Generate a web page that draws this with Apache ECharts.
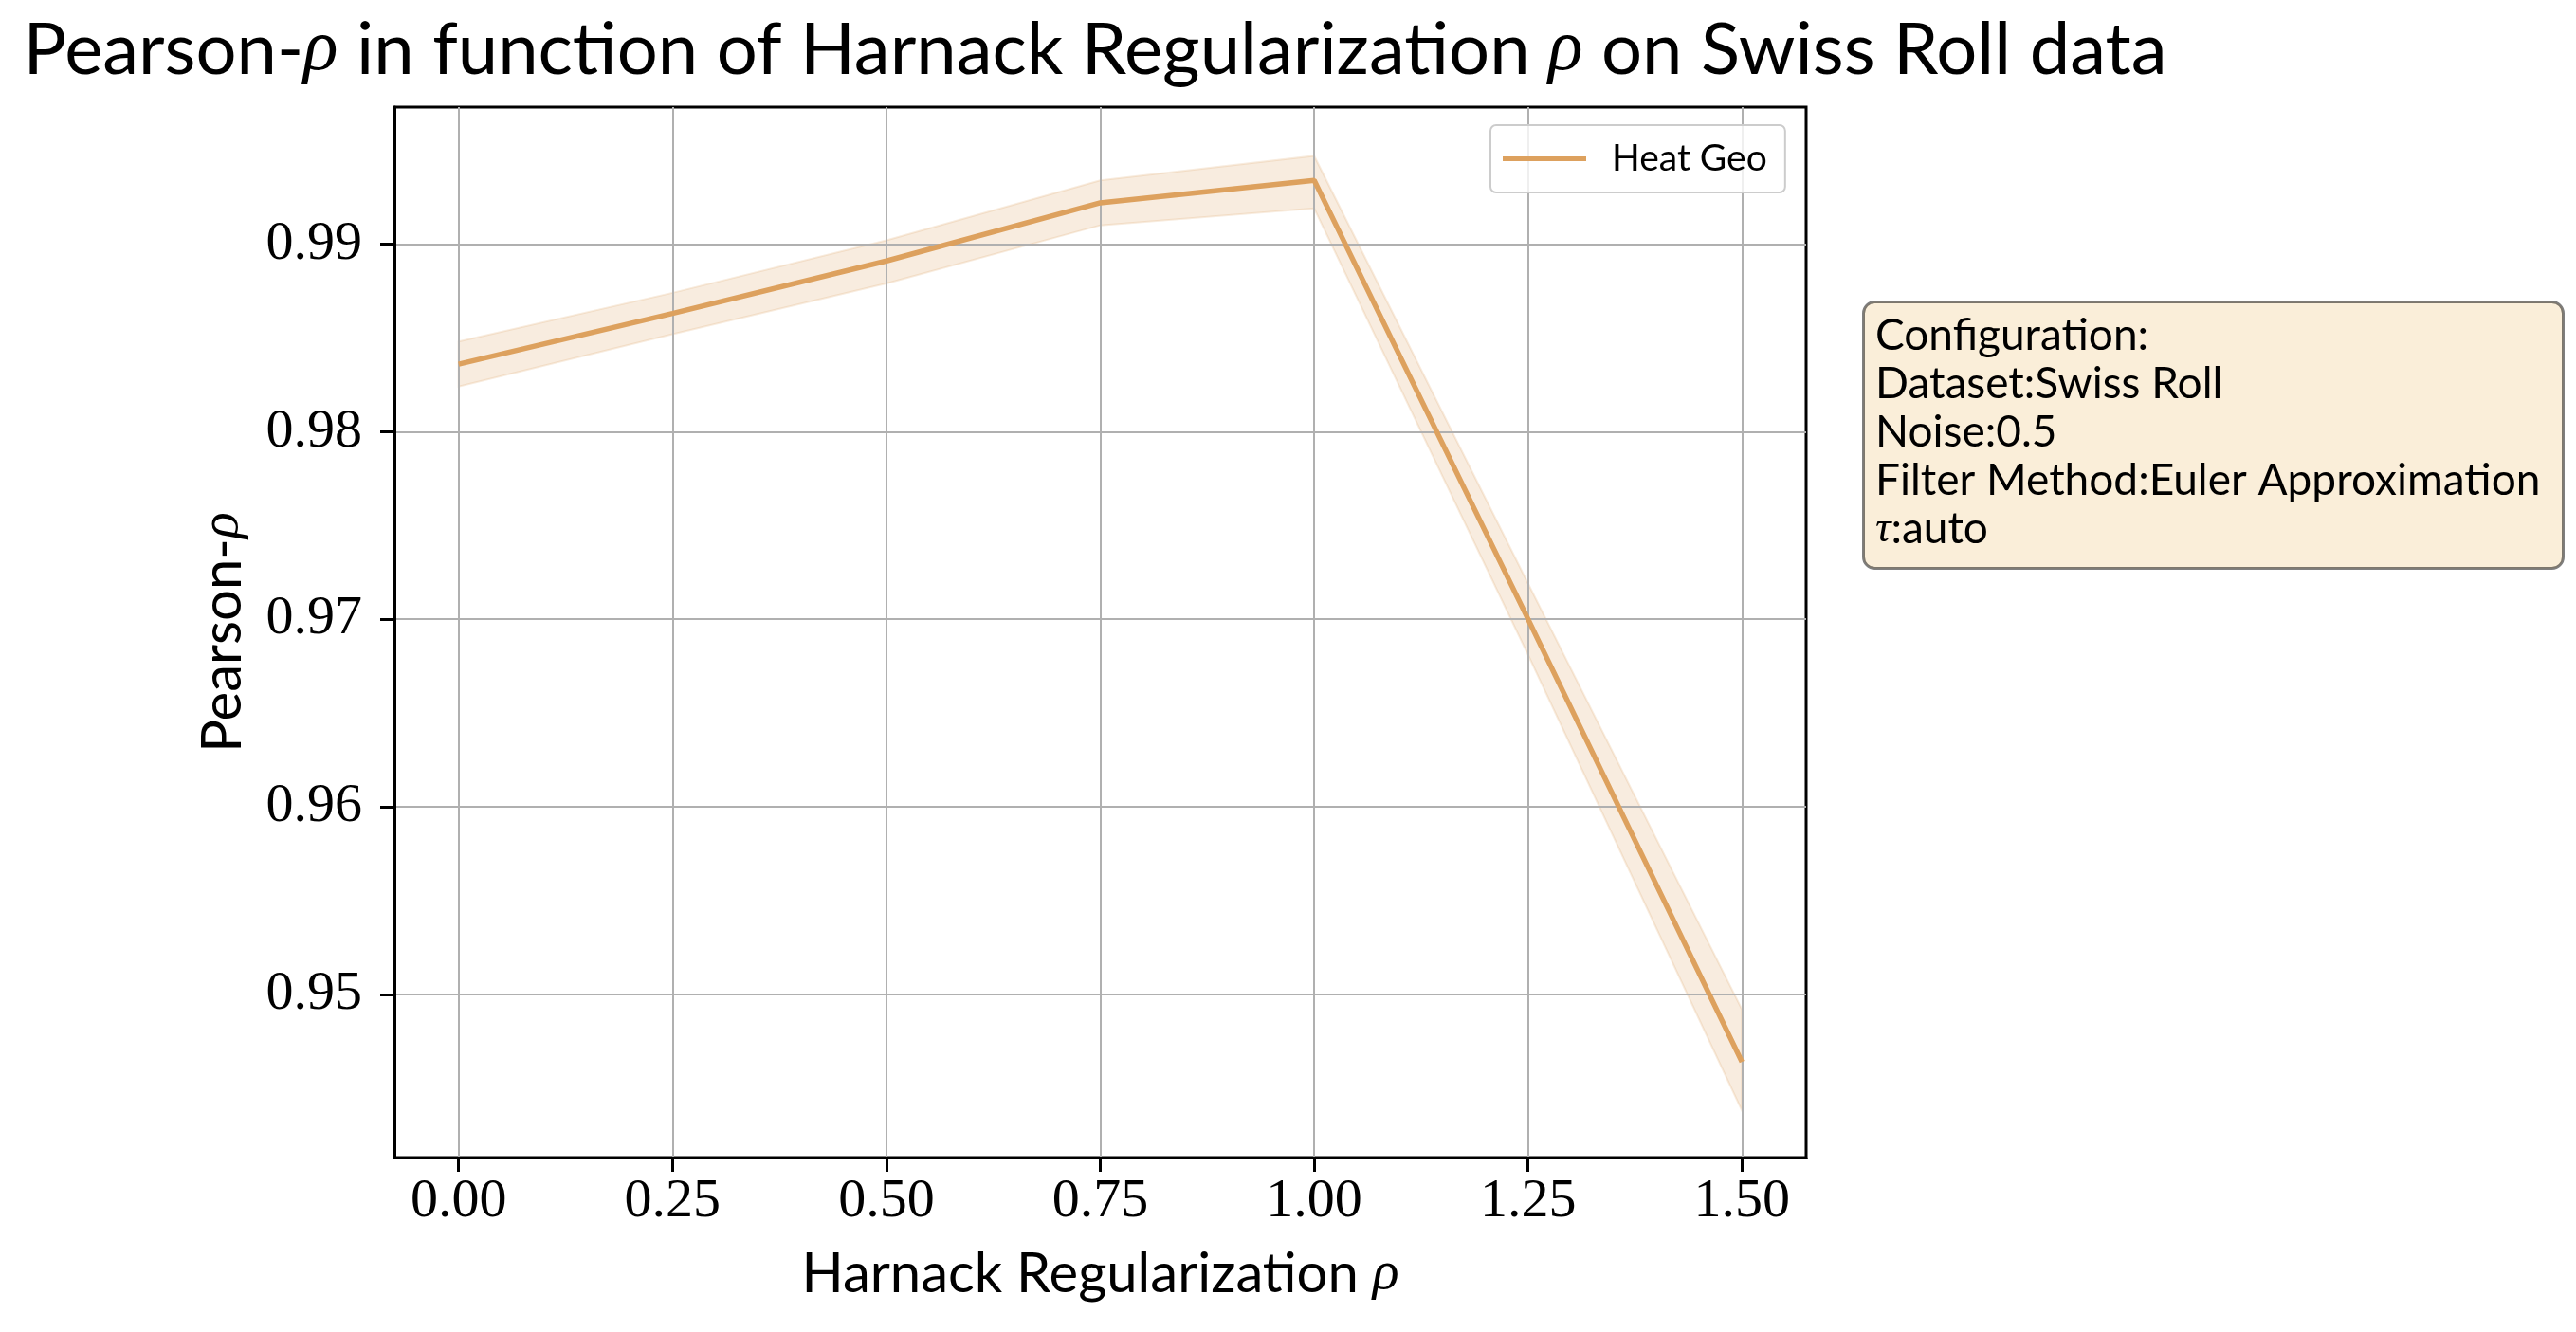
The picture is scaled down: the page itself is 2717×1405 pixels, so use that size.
<!DOCTYPE html>
<html>
<head>
    <meta charset="utf-8">
    <script src="https://cdn.jsdelivr.net/npm/echarts@6/dist/echarts.min.js"></script>
    <style>html, body { margin: 0; padding: 0; background: #ffffff; }</style>
</head>
<body>
    <div id="main" style="width: 2717px; height: 1405px;"></div>
    <script type="text/javascript">
        // data
        var regValues = [0, 0.25, 0.5, 0.75, 1.0, 1.25, 1.5];
        var pearsonMean = [0.9836, 0.9863, 0.9891, 0.9922, 0.9934, 0.9700, 0.9464];
        var pearsonUpper = [0.9848, 0.9874, 0.9902, 0.9934, 0.9947, 0.9719, 0.9492];
        var pearsonLower = [0.9824, 0.9852, 0.9879, 0.9910, 0.9919, 0.9681, 0.9438];
        var xTicks = [0, 0.25, 0.5, 0.75, 1.0, 1.25, 1.5];
        var yTicks = [0.95, 0.96, 0.97, 0.98, 0.99];
        var configLines = ['Configuration:', 'Dataset:Swiss Roll', 'Noise:0.5',
                           'Filter Method:Euler Approximation', '{i|τ}:auto'];

        var myChart = echarts.init(document.getElementById('main'));

        var sans = 'Lato';
        var serif = 'Liberation Serif';
        var lineColor = '#dda15e';

        var option = {
            animation: false,
            backgroundColor: '#ffffff',
            title: {
                text: 'Pearson-{i|ρ} in function of Harnack Regularization {i|ρ} on Swiss Roll data',
                left: 1150,
                textAlign: 'center',
                top: 10,
                textStyle: {
                    fontFamily: sans, fontWeight: 'normal', fontSize: 76, color: '#000',
                    rich: { i: { fontFamily: serif, fontStyle: 'italic', fontSize: 76, color: '#000' } }
                }
            },
            legend: {
                data: ['Heat Geo'],
                left: 1572,
                top: 132,
                padding: [16, 19, 16, 13],
                icon: 'rect',
                itemWidth: 88,
                itemHeight: 5,
                backgroundColor: 'rgba(255,255,255,0.8)',
                borderColor: '#cccccc',
                borderWidth: 2,
                borderRadius: 6,
                textStyle: { fontFamily: sans, fontSize: 39, color: '#000', padding: [0, 0, 0, 22] }
            },
            grid: {
                left: 416, top: 113, width: 1489, height: 1108,
                show: true, borderColor: '#000', borderWidth: 3,
                backgroundColor: 'transparent',
                containLabel: false,
                outerBoundsMode: 'none'
            },
            xAxis: {
                type: 'value', min: -0.075, max: 1.575, z: 1,
                axisLine: { show: true, onZero: false, lineStyle: { color: '#000', width: 3 } },
                axisTick: { show: true, inside: false, length: 15, customValues: xTicks,
                            lineStyle: { color: '#000', width: 3 } },
                axisLabel: { customValues: xTicks, margin: 18, color: '#000',
                             fontFamily: serif, fontSize: 58,
                             formatter: function (v) { return v.toFixed(2); } },
                splitLine: { show: true, lineStyle: { color: '#b0b0b0', width: 2 } },
                name: 'Harnack Regularization {i|ρ}',
                nameLocation: 'middle',
                nameGap: 94,
                nameMoveOverlap: false,
                nameTextStyle: { fontFamily: sans, fontSize: 58, color: '#000',
                                 rich: { i: { fontFamily: serif, fontStyle: 'italic', fontSize: 58, color: '#000' } } }
            },
            yAxis: {
                type: 'value', min: 0.9413, max: 0.9973, z: 1,
                axisLine: { show: true, onZero: false, lineStyle: { color: '#000', width: 3 } },
                axisTick: { show: true, inside: false, length: 15, customValues: yTicks,
                            lineStyle: { color: '#000', width: 3 } },
                axisLabel: { customValues: yTicks, margin: 34, color: '#000',
                             fontFamily: serif, fontSize: 58,
                             formatter: function (v) { return v.toFixed(2); } },
                splitLine: { show: true, lineStyle: { color: '#b0b0b0', width: 2 } },
                name: 'Pearson-{i|ρ}',
                nameLocation: 'middle',
                nameRotate: 90,
                nameGap: 152,
                nameMoveOverlap: false,
                nameTextStyle: { fontFamily: sans, fontSize: 58, color: '#000',
                                 rich: { i: { fontFamily: serif, fontStyle: 'italic', fontSize: 58, color: '#000' } } }
            },
            graphic: [
                {
                    type: 'rect',
                    left: 1964, top: 317, z: 10,
                    shape: { width: 738, height: 281, r: 12 },
                    style: { fill: 'rgba(245,222,179,0.5)', stroke: 'rgba(0,0,0,0.5)', lineWidth: 3 }
                },
                {
                    type: 'text',
                    left: 1978, top: 329, z: 11,
                    style: {
                        text: configLines.join('\n'),
                        fontFamily: sans, fontSize: 46, lineHeight: 51, fill: '#000',
                        rich: { i: { fontFamily: serif, fontStyle: 'italic', fontSize: 46, lineHeight: 51 } }
                    }
                }
            ],
            series: [
                {
                    type: 'custom',
                    name: 'band',
                    z: 0,
                    silent: true,
                    data: regValues.map(function (x, i) { return [x, pearsonLower[i], pearsonUpper[i]]; }),
                    encode: { x: 0, y: [1, 2] },
                    renderItem: function (params, api) {
                        if (params.dataIndex !== 0) return null;
                        var pts = [];
                        for (var i = 0; i < regValues.length; i++) {
                            pts.push(api.coord([regValues[i], pearsonUpper[i]]));
                        }
                        for (var j = regValues.length - 1; j >= 0; j--) {
                            pts.push(api.coord([regValues[j], pearsonLower[j]]));
                        }
                        return {
                            type: 'polygon',
                            shape: { points: pts },
                            style: { fill: 'rgba(221,161,94,0.2)', stroke: 'rgba(221,161,94,0.2)', lineWidth: 2 }
                        };
                    }
                },
                {
                    type: 'line',
                    name: 'Heat Geo',
                    z: 3,
                    symbol: 'none',
                    data: regValues.map(function (x, i) { return [x, pearsonMean[i]]; }),
                    itemStyle: { color: lineColor },
                    lineStyle: { color: lineColor, width: 5.5 }
                }
            ]
        };

        myChart.setOption(option);
    </script>
</body>
</html>
